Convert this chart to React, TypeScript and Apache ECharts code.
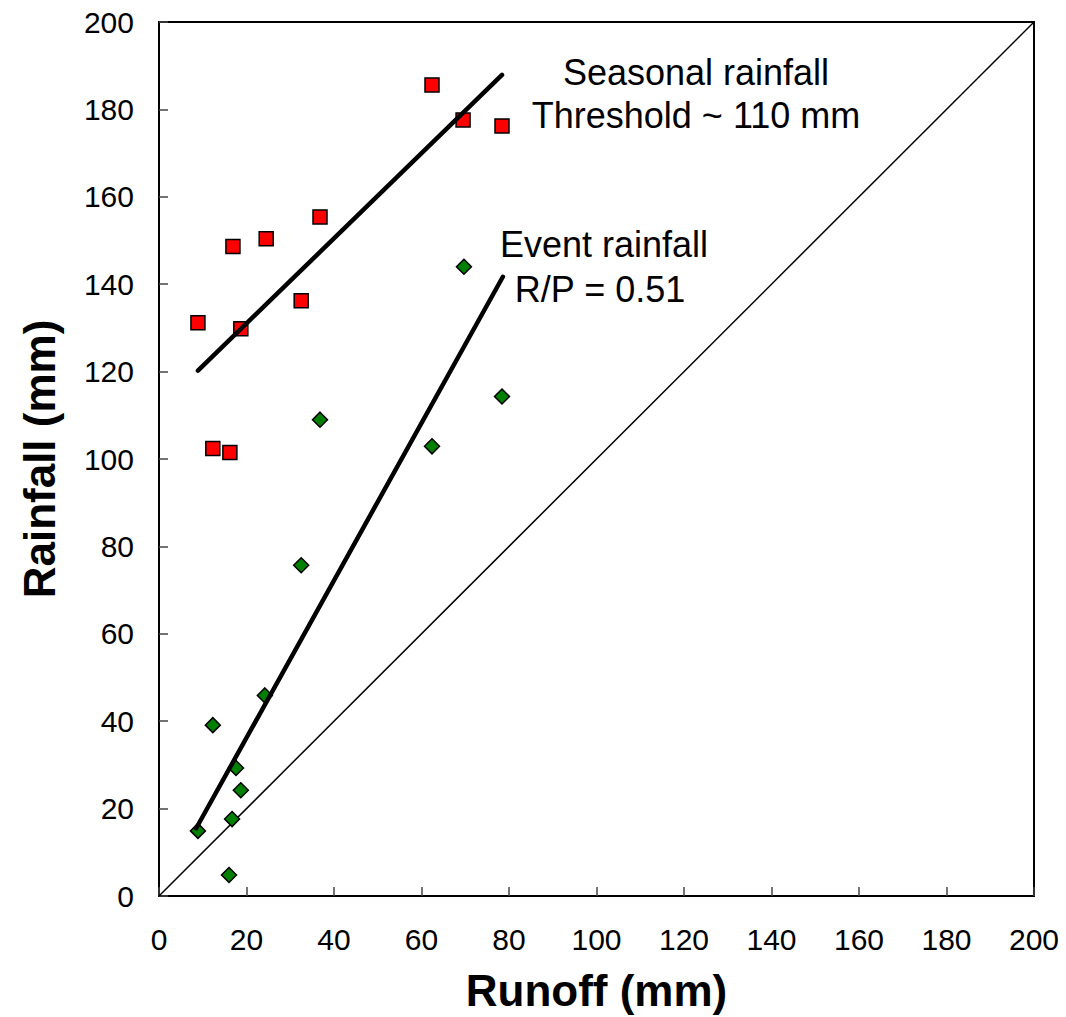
import React, { useEffect, useRef } from "react";
import * as echarts from "echarts";

// Seasonal rainfall (red squares): [runoff, rainfall]
const seasonalRunoff = [62.4, 69.5, 78.4, 36.8, 24.5, 16.9, 32.5, 8.9, 18.7, 12.3, 16.2];
const seasonalRainfall = [185.6, 177.6, 176.2, 155.4, 150.4, 148.6, 136.2, 131.2, 129.8, 102.4, 101.5];

// Event rainfall (green diamonds)
const eventRunoff = [69.7, 78.4, 36.8, 62.4, 32.5, 24.2, 12.3, 17.6, 18.7, 16.7, 8.9, 16.0];
const eventRainfall = [144.0, 114.3, 109.0, 102.9, 75.7, 45.9, 39.1, 29.3, 24.2, 17.6, 14.9, 4.8];

// Trend lines endpoints
const seasonalTrendX = [8.9, 78.4];
const seasonalTrendY = [120.2, 187.9];
const eventTrendX = [8.5, 78.6];
const eventTrendY = [15.5, 141.7];
const oneToOne = [0, 200];

const axisTicks = [0, 20, 40, 60, 80, 100, 120, 140, 160, 180, 200];

const FONT = "Liberation Sans, Arial, Helvetica, sans-serif";

export default function App() {
  const ref = useRef<HTMLDivElement>(null);
  useEffect(() => {
    if (!ref.current) return;
    const chart = echarts.init(ref.current, undefined, { renderer: "svg" });
    const zip = (xs: number[], ys: number[]) => xs.map((x, i) => [x, ys[i]]);
    const axisCommon = {
      type: "value",
      min: axisTicks[0],
      max: axisTicks[axisTicks.length - 1],
      interval: axisTicks[1] - axisTicks[0],
      nameLocation: "middle",
      nameTextStyle: { fontFamily: FONT, fontSize: 44, fontWeight: "bold", color: "#000" },
      axisLine: { show: true, lineStyle: { color: "#000", width: 2 } },
      axisTick: { show: true, inside: true, length: 9, lineStyle: { color: "#444", width: 1.5 } },
      axisLabel: { fontFamily: FONT, fontSize: 30, color: "#000" },
      splitLine: { show: false },
    };
    chart.setOption({
      animation: false,
      backgroundColor: "#fff",
      textStyle: { fontFamily: FONT },
      grid: {
        left: 159,
        top: 22,
        right: 32,
        bottom: 120,
        show: true,
        borderColor: "#000",
        borderWidth: 2,
        containLabel: false,
      },
      xAxis: {
        ...axisCommon,
        name: "Runoff (mm)",
        nameGap: 72,
        axisLabel: { ...axisCommon.axisLabel, margin: 28 },
      },
      yAxis: {
        ...axisCommon,
        name: "Rainfall (mm)",
        nameGap: 98,
        axisLabel: { ...axisCommon.axisLabel, margin: 25 },
      },
      series: [
        {
          type: "line",
          data: zip(oneToOne, oneToOne),
          symbol: "none",
          lineStyle: { color: "#000", width: 1.5 },
          z: 1,
        },
        {
          type: "line",
          data: zip(seasonalTrendX, seasonalTrendY),
          symbol: "none",
          lineStyle: { color: "#000", width: 4.5, cap: "round" },
          z: 3,
        },
        {
          type: "line",
          data: zip(eventTrendX, eventTrendY),
          symbol: "none",
          lineStyle: { color: "#000", width: 4.5, cap: "round" },
          z: 3,
        },
        {
          type: "scatter",
          data: zip(seasonalRunoff, seasonalRainfall),
          symbol: "rect",
          symbolSize: 14,
          itemStyle: { color: "#ff0000", borderColor: "#000", borderWidth: 1.5, opacity: 1 },
          z: 2,
        },
        {
          type: "scatter",
          data: zip(eventRunoff, eventRainfall),
          symbol: "diamond",
          symbolSize: 15,
          itemStyle: { color: "#008000", borderColor: "#000", borderWidth: 1.5, opacity: 1 },
          z: 2,
        },
      ],
      graphic: [
        {
          type: "text",
          x: 696,
          y: 72,
          style: { text: "Seasonal rainfall", fontFamily: FONT, fontSize: 36, fill: "#000", align: "center", verticalAlign: "middle" },
        },
        {
          type: "text",
          x: 696,
          y: 115,
          style: { text: "Threshold ~ 110 mm", fontFamily: FONT, fontSize: 36, fill: "#000", align: "center", verticalAlign: "middle" },
        },
        {
          type: "text",
          x: 604,
          y: 244,
          style: { text: "Event rainfall", fontFamily: FONT, fontSize: 36, fill: "#000", align: "center", verticalAlign: "middle" },
        },
        {
          type: "text",
          x: 600,
          y: 289,
          style: { text: "R/P = 0.51", fontFamily: FONT, fontSize: 36, fill: "#000", align: "center", verticalAlign: "middle" },
        },
      ],
    });
    return () => chart.dispose();
  }, []);
  return (
    <div
      ref={ref}
      style={{ position: "fixed", left: 0, top: 0, width: 1066, height: 1017, background: "#fff" }}
    />
  );
}
